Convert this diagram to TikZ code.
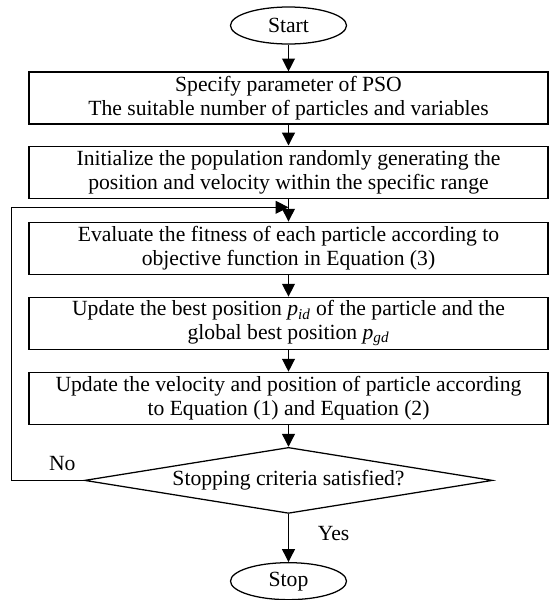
\documentclass[tikz,border=0pt]{standalone}
\usepackage{fontspec}
\setmainfont{Liberation Serif}
\usetikzlibrary{positioning, calc, arrows.meta, shapes}
\tikzset{terminal/.style={draw, ellipse, line width=.9pt, minimum width=2.9cm, minimum height=.925cm, inner sep=0pt}}
\tikzset{process/.style={draw, rectangle, line width=.9pt, minimum width=12.975cm, minimum height=1.3cm, inner sep=0pt, align=center}}
\tikzset{decision/.style={draw, diamond, aspect=6.2, line width=.9pt, minimum width=10.2cm, minimum height=1.65cm, inner sep=0pt}}
\tikzset{pre/.style={<-, line width=.9pt}}
\tikzset{>={Triangle[length=3.2mm, width=3.2mm]}}

\begin{document}
\begin{tikzpicture}[font=\fontsize{15.4}{17}\selectfont]
      \useasboundingbox (0,0) rectangle (13.725,-15);
      \node[terminal] (start) at (7.2125,-.6375) {Start};

      \node[process, anchor=north] (b1) at ($(start.south)-(0,.67)$) {Specify parameter of PSO\\The suitable number of particles and variables}
      edge[pre] (start);

      \node[process, anchor=north] (b2) at ($(b1.south)-(0,.52)$) {Initialize the population randomly generating the\\position and velocity within the specific range}
      edge[pre] (b1);

      \node[process, anchor=north] (b3) at ($(b2.south)-(0,.57)$) {Evaluate the fitness of each particle according to\\objective function in Equation (3)}
      edge[pre] (b2);

      \node[process, anchor=north] (b4) at ($(b3.south)-(0,.545)$) {Update the best position \textit{p}\textsubscript{\textit{id}} of the particle and the\\global best position \textit{p}\textsubscript{\textit{gd}}}
      edge[pre] (b3);

      \node[process, anchor=north] (b5) at ($(b4.south)-(0,.545)$) {Update the velocity and position of particle according\\to Equation (1) and Equation (2)}
      edge[pre] (b4);

      \node[decision, anchor=north] (dec) at ($(b5.south)-(0,.545)$) {Stopping criteria satisfied?}
      edge[pre] (b5);

      \node[terminal, anchor=north] (stop) at ($(dec.south)-(0,1.2)$) {Stop}
      edge[pre] node[right=6mm, pos=.6] (yes) {Yes} (dec);

      % back to the evaluation step
      \coordinate (join) at ($(b2.south)!.375!(b3.north)$);
      \draw[->, line width=.9pt] (dec.west) -- node[above=1mm, pos=.3] (no) {No} ($(dec.west)-(1.8,0)$) |- (join);
    \end{tikzpicture}
\end{document}
